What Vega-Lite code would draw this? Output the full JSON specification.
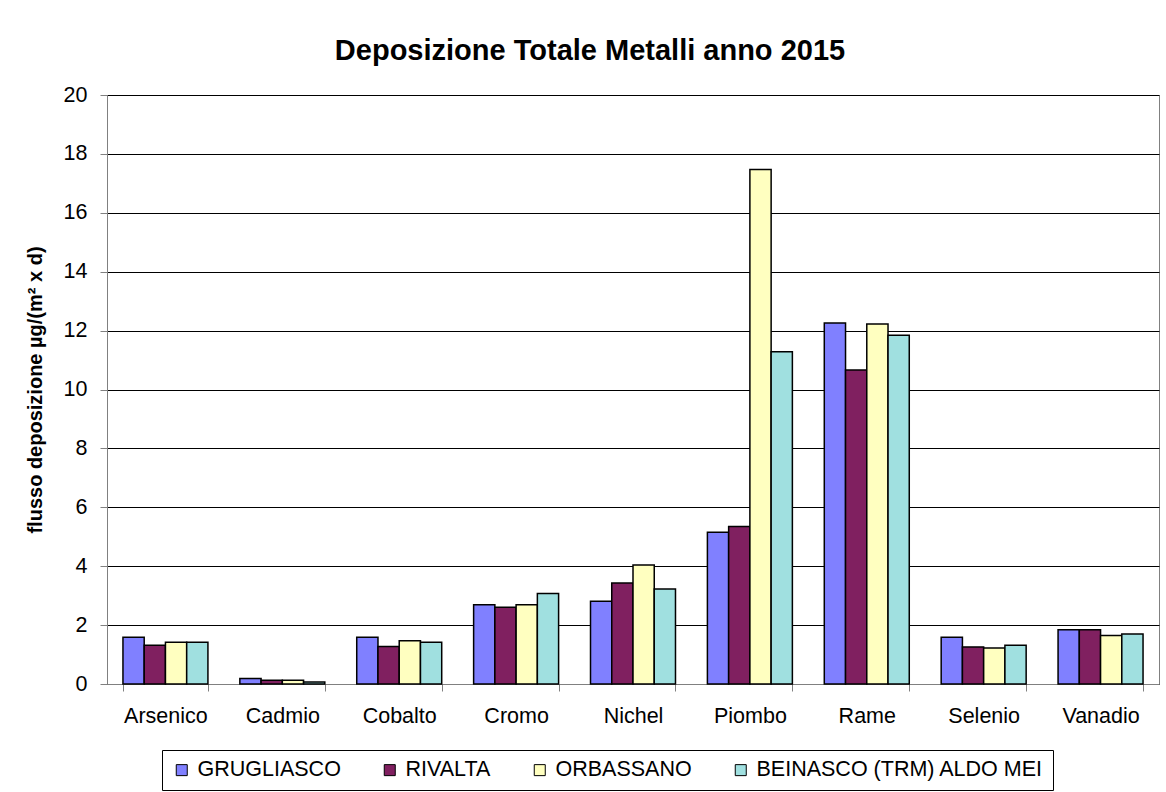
{
  "$schema": "https://vega.github.io/schema/vega-lite/v6.json",
  "autosize": "none",
  "width": 1052,
  "height": 589,
  "padding": {"left": 107, "top": 95, "right": 7, "bottom": 108},
  "background": "white",
  "config": {
    "font": "Liberation Sans",
    "view": {"stroke": "#808080", "strokeWidth": 1}
  },
  "title": {
    "text": "Deposizione Totale Metalli anno 2015",
    "font": "Liberation Sans",
    "fontSize": 29,
    "fontWeight": "bold",
    "color": "#000000",
    "anchor": "middle",
    "dx": -43,
    "offset": 18
  },
  "data": {
    "values": [
      {"metallo": "Arsenico", "stazione": "GRUGLIASCO", "valore": 1.59},
      {"metallo": "Arsenico", "stazione": "RIVALTA", "valore": 1.32},
      {"metallo": "Arsenico", "stazione": "ORBASSANO", "valore": 1.42},
      {"metallo": "Arsenico", "stazione": "BEINASCO (TRM) ALDO MEI", "valore": 1.42},
      {"metallo": "Cadmio", "stazione": "GRUGLIASCO", "valore": 0.19},
      {"metallo": "Cadmio", "stazione": "RIVALTA", "valore": 0.13},
      {"metallo": "Cadmio", "stazione": "ORBASSANO", "valore": 0.13},
      {"metallo": "Cadmio", "stazione": "BEINASCO (TRM) ALDO MEI", "valore": 0.07},
      {"metallo": "Cobalto", "stazione": "GRUGLIASCO", "valore": 1.59},
      {"metallo": "Cobalto", "stazione": "RIVALTA", "valore": 1.27},
      {"metallo": "Cobalto", "stazione": "ORBASSANO", "valore": 1.47},
      {"metallo": "Cobalto", "stazione": "BEINASCO (TRM) ALDO MEI", "valore": 1.42},
      {"metallo": "Cromo", "stazione": "GRUGLIASCO", "valore": 2.69},
      {"metallo": "Cromo", "stazione": "RIVALTA", "valore": 2.61},
      {"metallo": "Cromo", "stazione": "ORBASSANO", "valore": 2.69},
      {"metallo": "Cromo", "stazione": "BEINASCO (TRM) ALDO MEI", "valore": 3.07},
      {"metallo": "Nichel", "stazione": "GRUGLIASCO", "valore": 2.81},
      {"metallo": "Nichel", "stazione": "RIVALTA", "valore": 3.43},
      {"metallo": "Nichel", "stazione": "ORBASSANO", "valore": 4.04},
      {"metallo": "Nichel", "stazione": "BEINASCO (TRM) ALDO MEI", "valore": 3.23},
      {"metallo": "Piombo", "stazione": "GRUGLIASCO", "valore": 5.15},
      {"metallo": "Piombo", "stazione": "RIVALTA", "valore": 5.35},
      {"metallo": "Piombo", "stazione": "ORBASSANO", "valore": 17.47},
      {"metallo": "Piombo", "stazione": "BEINASCO (TRM) ALDO MEI", "valore": 11.28},
      {"metallo": "Rame", "stazione": "GRUGLIASCO", "valore": 12.26},
      {"metallo": "Rame", "stazione": "RIVALTA", "valore": 10.66},
      {"metallo": "Rame", "stazione": "ORBASSANO", "valore": 12.22},
      {"metallo": "Rame", "stazione": "BEINASCO (TRM) ALDO MEI", "valore": 11.84},
      {"metallo": "Selenio", "stazione": "GRUGLIASCO", "valore": 1.59},
      {"metallo": "Selenio", "stazione": "RIVALTA", "valore": 1.26},
      {"metallo": "Selenio", "stazione": "ORBASSANO", "valore": 1.22},
      {"metallo": "Selenio", "stazione": "BEINASCO (TRM) ALDO MEI", "valore": 1.32},
      {"metallo": "Vanadio", "stazione": "GRUGLIASCO", "valore": 1.84},
      {"metallo": "Vanadio", "stazione": "RIVALTA", "valore": 1.84},
      {"metallo": "Vanadio", "stazione": "ORBASSANO", "valore": 1.65},
      {"metallo": "Vanadio", "stazione": "BEINASCO (TRM) ALDO MEI", "valore": 1.70}
    ]
  },
  "mark": {"type": "bar", "stroke": "#000000", "strokeWidth": 1.5},
  "encoding": {
    "x": {
      "field": "metallo",
      "type": "nominal",
      "sort": ["Arsenico", "Cadmio", "Cobalto", "Cromo", "Nichel", "Piombo", "Rame", "Selenio", "Vanadio"],
      "scale": {"paddingInner": 0.273, "paddingOuter": 0.1365},
      "axis": {
        "title": null,
        "labelAngle": 0,
        "labelFont": "Liberation Sans",
        "labelFontSize": 21.5,
        "labelColor": "#000000",
        "labelPadding": 14,
        "tickBand": "extent",
        "tickSize": 7,
        "tickColor": "#808080",
        "domainColor": "#808080",
        "grid": false
      }
    },
    "xOffset": {
      "field": "stazione",
      "type": "nominal",
      "sort": ["GRUGLIASCO", "RIVALTA", "ORBASSANO", "BEINASCO (TRM) ALDO MEI"],
      "scale": {"paddingInner": 0, "paddingOuter": 0}
    },
    "y": {
      "field": "valore",
      "type": "quantitative",
      "scale": {"domain": [0, 20], "nice": false},
      "axis": {
        "title": "flusso deposizione µg/(m² x d)",
        "titleFont": "Liberation Sans",
        "titleFontSize": 20,
        "titleFontWeight": "bold",
        "titleColor": "#000000",
        "titlePadding": 18,
        "values": [0, 2, 4, 6, 8, 10, 12, 14, 16, 18, 20],
        "labelFont": "Liberation Sans",
        "labelFontSize": 21.5,
        "labelColor": "#000000",
        "labelPadding": 13,
        "tickSize": 7,
        "tickColor": "#808080",
        "domainColor": "#808080",
        "grid": true,
        "gridColor": "#000000",
        "gridWidth": 1
      }
    },
    "color": {
      "field": "stazione",
      "type": "nominal",
      "sort": ["GRUGLIASCO", "RIVALTA", "ORBASSANO", "BEINASCO (TRM) ALDO MEI"],
      "scale": {
        "domain": ["GRUGLIASCO", "RIVALTA", "ORBASSANO", "BEINASCO (TRM) ALDO MEI"],
        "range": ["#8080FF", "#802060", "#FFFFC0", "#A0E0E0"]
      },
      "legend": {
        "title": null,
        "orient": "none",
        "direction": "horizontal",
        "legendX": 55,
        "legendY": 655,
        "strokeColor": "#000000",
        "fillColor": "#FFFFFF",
        "padding": 9,
        "symbolType": "square",
        "symbolSize": 121,
        "symbolStrokeColor": "#000000",
        "symbolStrokeWidth": 1,
        "symbolOpacity": 1,
        "labelFont": "Liberation Sans",
        "labelFontSize": 21.5,
        "labelColor": "#000000",
        "labelOffset": 5,
        "columnPadding": 38,
        "labelLimit": 400
      }
    }
  }
}
